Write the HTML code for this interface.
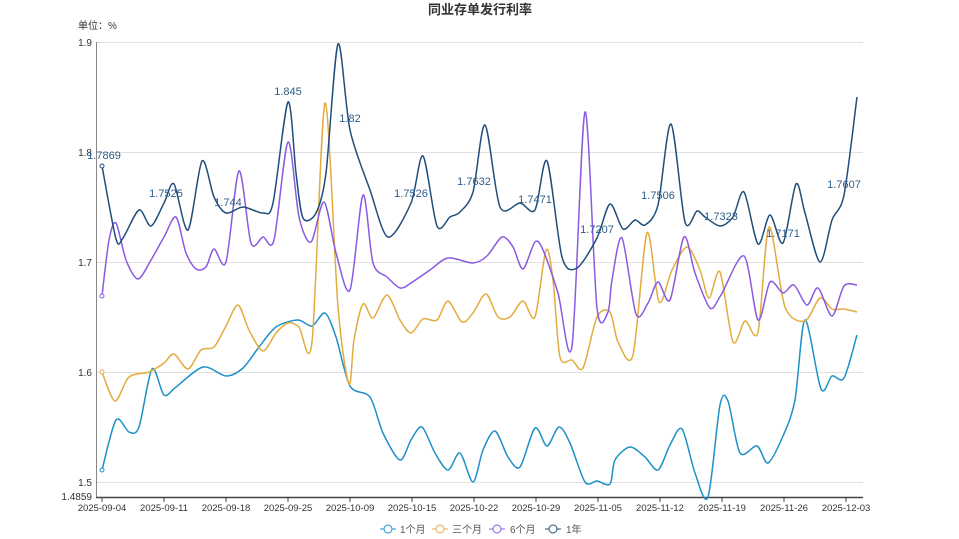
<!DOCTYPE html>
<html><head><meta charset="utf-8"><style>
body{margin:0;background:#fff;}
svg{display:block;font-family:"Liberation Sans","Noto Sans CJK SC",sans-serif;}
</style></head><body>
<svg id="c" width="959" height="539" xmlns="http://www.w3.org/2000/svg">
<text x="480" y="14" text-anchor="middle" font-size="13" font-weight="bold" fill="#333">同业存单发行利率</text>
<text x="78" y="29" font-size="10" fill="#333">单位：%</text>
<g stroke="#e0e0e0" stroke-width="1">
<line x1="96" y1="42.5" x2="863" y2="42.5"/><line x1="96" y1="152.5" x2="863" y2="152.5"/>
<line x1="96" y1="262.5" x2="863" y2="262.5"/><line x1="96" y1="372.5" x2="863" y2="372.5"/>
<line x1="96" y1="482.5" x2="863" y2="482.5"/>
</g>
<line x1="96.5" y1="42" x2="96.5" y2="497" stroke="#888"/>
<line x1="96" y1="497.5" x2="863" y2="497.5" stroke="#444" stroke-width="1.5"/>
<g font-size="10" fill="#333" text-anchor="end">
<text x="92" y="46">1.9</text><text x="92" y="156">1.8</text><text x="92" y="266">1.7</text>
<text x="92" y="376">1.6</text><text x="92" y="486">1.5</text><text x="92" y="500">1.4859</text>
</g>
<g id="xt" font-size="9.5" fill="#333" text-anchor="middle"></g>
<g id="series" fill="none" stroke-width="1.5"></g>
<g font-size="11" fill="#2f5d8a" text-anchor="middle">
<text x="104" y="159">1.7869</text><text x="288" y="95">1.845</text><text x="350" y="122">1.82</text>
<text x="166" y="197">1.7525</text><text x="228" y="206">1.744</text><text x="411" y="197">1.7526</text>
<text x="474" y="185">1.7632</text><text x="535" y="203">1.7471</text><text x="597" y="233">1.7207</text>
<text x="658" y="199">1.7506</text><text x="721" y="220">1.7323</text><text x="783" y="237">1.7171</text>
<text x="844" y="188">1.7607</text>
</g>
<g font-size="10" fill="#555">
<line x1="380" y1="529" x2="396" y2="529" stroke="#1e90c8"/><circle cx="388" cy="529" r="4" fill="#fff" stroke="#1e90c8"/><text x="400" y="533">1个月</text>
<line x1="432" y1="529" x2="448" y2="529" stroke="#e3ac3f"/><circle cx="440" cy="529" r="4" fill="#fff" stroke="#e3ac3f"/><text x="452" y="533">三个月</text>
<line x1="489" y1="529" x2="505" y2="529" stroke="#8a5ae0"/><circle cx="497" cy="529" r="4" fill="#fff" stroke="#8a5ae0"/><text x="510" y="533">6个月</text>
<line x1="545" y1="529" x2="561" y2="529" stroke="#1f4e7a"/><circle cx="553" cy="529" r="4" fill="#fff" stroke="#1f4e7a"/><text x="566" y="533">1年</text>
</g>
</svg>
<script>
var NS="http://www.w3.org/2000/svg";
var labels=["2025-09-04","2025-09-11","2025-09-18","2025-09-25","2025-10-09","2025-10-15","2025-10-22","2025-10-29","2025-11-05","2025-11-12","2025-11-19","2025-11-26","2025-12-03"];
var xt=document.getElementById("xt");
labels.forEach(function(l,i){var x=102+62*i;
var t=document.createElementNS(NS,"line");t.setAttribute("x1",x);t.setAttribute("x2",x);t.setAttribute("y1",497);t.setAttribute("y2",502);t.setAttribute("stroke","#444");xt.appendChild(t);
var tx=document.createElementNS(NS,"text");tx.setAttribute("x",x);tx.setAttribute("y",511);tx.textContent=l;xt.appendChild(tx);});
var S={
"#1e90c8":[[102,470],[116,420],[129,432],[139,427],[152,369],[164,395],[176,387],[203,367],[226,376],[243,368],[259,347],[276,327],[298,320],[312,326],[325,313],[336,337],[350,386],[370,397],[383,433],[400,460],[411,440],[422,427],[435,453],[448,470],[460,453],[473,482],[483,450],[495,431],[508,457],[520,467],[535,428],[547,446],[559,427],[570,443],[585,482],[597,481],[610,484],[615,460],[630,447],[645,457],[658,470],[670,445],[682,429],[695,473],[708,497],[720,405],[728,401],[740,453],[757,446],[768,463],[783,436],[795,400],[805,320],[821,389],[832,376],[844,378],[857,335]],
"#e3ac3f":[[102,372],[115,401],[129,377],[149,372],[164,363],[174,354],[188,369],[201,350],[214,347],[226,326],[238,305],[249,330],[263,351],[276,333],[288,323],[299,327],[312,342],[325,103],[338,307],[349,384],[354,340],[363,304],[373,318],[387,295],[400,320],[411,333],[423,319],[437,320],[448,301],[462,322],[473,313],[486,294],[498,317],[510,317],[523,301],[535,317],[546,250],[553,280],[560,357],[572,360],[583,368],[597,317],[610,312],[618,342],[633,355],[647,233],[659,302],[672,270],[687,247],[700,270],[709,298],[720,272],[733,342],[745,321],[758,332],[769,227],[785,307],[805,321],[820,298],[832,309],[844,309],[857,312]],
"#8a5ae0":[[102,296],[109,240],[116,223],[126,260],[138,279],[151,260],[164,237],[176,217],[186,253],[196,269],[206,267],[214,249],[226,262],[239,171],[251,243],[263,237],[274,240],[288,142],[299,217],[311,242],[324,202],[336,253],[350,290],[363,195],[373,263],[387,277],[400,288],[411,283],[430,270],[448,258],[473,263],[487,256],[502,237],[513,247],[523,269],[535,242],[543,250],[558,293],[572,346],[585,112],[597,308],[608,312],[612,280],[622,238],[636,314],[648,303],[658,282],[670,300],[684,237],[695,273],[710,308],[721,295],[744,256],[758,320],[770,282],[783,293],[794,285],[807,305],[818,288],[832,316],[844,286],[857,285]],
"#1f4e7a":[[102,166],[116,239],[123,238],[139,210],[151,226],[164,203],[174,184],[188,230],[202,161],[214,197],[226,213],[243,207],[263,213],[273,203],[288,102],[296,173],[303,218],[316,213],[326,173],[338,44],[350,130],[370,190],[388,237],[411,203],[423,156],[437,226],[450,217],[460,212],[473,192],[485,125],[500,207],[520,203],[535,210],[547,161],[562,257],[577,268],[597,238],[610,204],[623,229],[635,220],[645,225],[658,205],[671,124],[685,222],[697,211],[705,217],[720,226],[733,217],[744,192],[758,244],[770,215],[783,243],[796,184],[805,213],[820,262],[832,220],[844,195],[857,97]]
};
var g=document.getElementById("series");
function path(p){var d="M"+p[0][0]+","+p[0][1];
for(var i=0;i<p.length-1;i++){var p0=p[Math.max(0,i-1)],p1=p[i],p2=p[i+1],p3=p[Math.min(p.length-1,i+2)];
var k=7;
var c1x=p1[0]+(p2[0]-p0[0])/k,c1y=p1[1]+(p2[1]-p0[1])/k,c2x=p2[0]-(p3[0]-p1[0])/k,c2y=p2[1]-(p3[1]-p1[1])/k;
d+=" C"+c1x.toFixed(1)+","+c1y.toFixed(1)+" "+c2x.toFixed(1)+","+c2y.toFixed(1)+" "+p2[0]+","+p2[1];}
return d;}
for(var c in S){var e=document.createElementNS(NS,"path");e.setAttribute("d",path(S[c]));e.setAttribute("stroke",c);g.appendChild(e);
var m=document.createElementNS(NS,"circle");m.setAttribute("cx",S[c][0][0]);m.setAttribute("cy",S[c][0][1]);m.setAttribute("r",2);m.setAttribute("fill","#fff");m.setAttribute("stroke",c);m.setAttribute("stroke-width","1");g.appendChild(m);}
</script>
</body></html>
